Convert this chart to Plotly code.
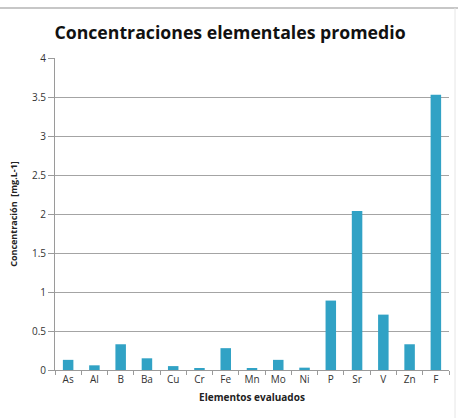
import plotly.graph_objects as go

elementos = ["As", "Al", "B", "Ba", "Cu", "Cr", "Fe", "Mn", "Mo", "Ni", "P", "Sr", "V", "Zn", "F"]
concentracion = [0.13, 0.06, 0.33, 0.15, 0.05, 0.015, 0.28, 0.015, 0.13, 0.03, 0.89, 2.04, 0.71, 0.33, 3.53]
y_ticks = [0, 0.5, 1, 1.5, 2, 2.5, 3, 3.5, 4]
y_tick_text = ["0", "0.5", "1", "1.5", "2", "2.5", "3", "3.5", "4"]

W, H = 458, 418
ml, mr, mt, mb = 55, 9, 58, 48
pw, ph = W - ml - mr, H - mt - mb

fig = go.Figure(go.Bar(
    x=elementos, y=concentracion,
    marker=dict(color="#31a2c5", line=dict(width=0)),
))

font = "Open Sans, Noto Sans, sans-serif"
fig.update_layout(
    width=W, height=H,
    margin=dict(l=ml, r=mr, t=mt, b=mb),
    paper_bgcolor="white", plot_bgcolor="white",
    bargap=0.6,
    showlegend=False,
    font=dict(family=font, color="#404040"),
    title=dict(text="<b>Concentraciones elementales promedio</b>",
               x=(230) / W, xanchor="center", y=1 - 33 / H, yanchor="middle",
               font=dict(size=17.7, color="#111111", family=font)),
    xaxis=dict(
        showline=True, linecolor="#9a9a9a", linewidth=1,
        ticks="outside", tickson="boundaries", ticklen=4, tickcolor="#9a9a9a",
        tickfont=dict(size=10, color="#333333"),
        title=dict(text="<b>Elementos evaluados</b>", font=dict(size=10, color="#222222"), standoff=8),
        showgrid=False,
    ),
    yaxis=dict(
        range=[0, 4], tickvals=y_ticks, ticktext=y_tick_text,
        showline=True, linecolor="#9a9a9a", linewidth=1,
        ticks="outside", ticklen=6, tickcolor="#9a9a9a",
        showgrid=True, gridcolor="#a4a4a4", gridwidth=1,
        zeroline=False,
        tickfont=dict(size=10, color="#333333"),
        title=dict(text="<b>Concentración  [mg.L-1]</b>", font=dict(size=9, color="#222222"), standoff=12),
    ),
    shapes=[
        dict(type="line", xref="paper", yref="paper",
             x0=-ml / pw, x1=(W - ml) / pw, y0=(370 - 8) / ph, y1=(370 - 8) / ph,
             line=dict(color="#b5b5b5", width=1.5)),
        dict(type="line", xref="paper", yref="paper",
             x0=(455 - ml) / pw, x1=(455 - ml) / pw, y0=(370 - 8) / ph, y1=(370 - H) / ph,
             line=dict(color="#e6e6e6", width=1)),
    ],
)

fig.write_html("out.html")
